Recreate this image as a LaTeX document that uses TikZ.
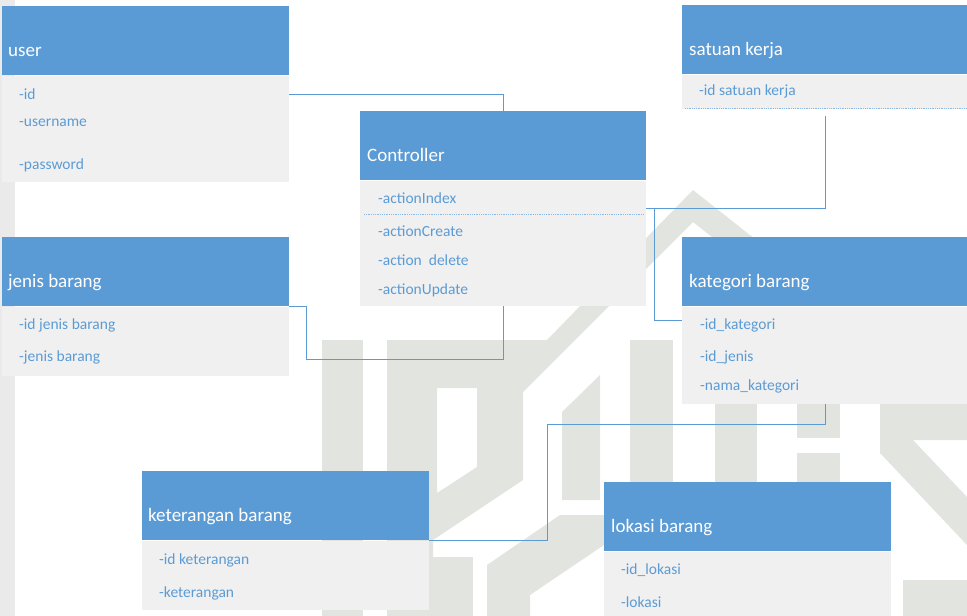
\documentclass[tikz,border=0pt]{standalone}
\usepackage{fontspec}
\setmainfont{Carlito}
\usepackage{xcolor}
\usetikzlibrary{calc}

\definecolor{hdrblue}{RGB}{91,155,213}
\definecolor{bodygray}{RGB}{240,240,240}
\definecolor{wmgray}{RGB}{226,228,223}
\definecolor{stripgray}{RGB}{234,234,234}

\tikzset{
  hdr/.style={fill=hdrblue, minimum width=287pt, minimum height=69pt, anchor=north west, inner sep=0pt},
  bdy/.style={fill=bodygray, minimum width=287pt, anchor=north west, inner sep=0pt},
  ttl/.style={text=white, font=\fontsize{19}{22}\selectfont, anchor=base west, inner sep=0pt},
  itm/.style={text=hdrblue, font=\fontsize{15.5}{18}\selectfont, anchor=base west, inner sep=0pt},
  sep/.style={draw=hdrblue!70, densely dotted, line width=0.8pt},
  link/.style={draw=hdrblue, line width=1pt},
  wmark/.style={fill=wmgray},
}

\begin{document}
\begin{tikzpicture}[x=1pt,y=1pt,yscale=-1]
  \useasboundingbox (0,0) rectangle (967,616);
  \clip (0,0) rectangle (967,616);

  % page background, faint watermark
  \fill[stripgray] (0,0) rectangle (15,616);
  \fill[wmark] (322,340) rectangle (363,616);
  \fill[wmark,even odd rule] (387,340) -- (547,340) -- (693,190) -- (760,243) -- (760,275) -- (693,222)
    -- (523,392) -- (523,480) -- (433,540) -- (433,616) -- (387,616) -- cycle
    (437,388) -- (477,388) -- (477,467) -- (437,493) -- cycle;
  \fill[wmark] (562,500) -- (562,412) -- (600,375) -- (600,500) -- cycle;
  \fill[wmark] (630,340) rectangle (673,482);
  \fill[wmark] (715,403) rectangle (757,482);
  \fill[wmark] (797,403) rectangle (840,438);
  \fill[wmark] (797,453) rectangle (840,482);
  \fill[wmark] (880,403) -- (967,403) -- (967,440) -- (913,440) -- (967,497) -- (967,545) -- (880,453) -- cycle;
  \fill[wmark] (903,580) rectangle (967,616);
  \fill[wmark] (433,557) rectangle (473,616);
  \fill[wmark] (487,616) -- (487,565) -- (560,515) -- (604,515) -- (604,545) -- (530,595) -- (530,616) -- cycle;

  % Class: user
  \node[hdr] (userh) at (2,6) {};
  \node[bdy, minimum height=106pt] (userb) at (userh.south west) {};
  \node[ttl] (usert) at ($(userh.north west)+(6,50)$) {user};
  \foreach \t/\dy [count=\i] in {-id/24, -username/51, -password/94}
    \node[itm] (useri\i) at ($(userb.north west)+(17,\dy)$) {\t};

  % Class: Controller
  \node[hdr, minimum width=286pt] (ctrlh) at (360,111) {};
  \node[bdy, minimum width=286pt, minimum height=125pt] (ctrlb) at (ctrlh.south west) {};
  \node[ttl] (ctrlt) at ($(ctrlh.north west)+(7,50)$) {Controller};
  \foreach \t/\dy [count=\i] in {-actionIndex/23, -actionCreate/56, -action\ \ delete/85, -actionUpdate/114}
    \node[itm] (ctrli\i) at ($(ctrlb.north west)+(18,\dy)$) {\t};
  \draw[sep] ($(ctrlb.north west)+(4,34)$) -- ($(ctrlb.north east)+(-2,34)$);

  % Class: satuan kerja
  \node[hdr] (sath) at (682,5) {};
  \node[bdy, minimum height=34pt] (satb) at (sath.south west) {};
  \node[ttl] (satt) at ($(sath.north west)+(7,50)$) {satuan kerja};
  \node[itm] (sati1) at ($(satb.north west)+(17,21)$) {-id satuan kerja};
  \draw[sep] ($(satb.south west)+(3,0)$) -- (satb.south east);

  % Class: jenis barang
  \node[hdr] (jenish) at (2,237) {};
  \node[bdy, minimum height=69pt] (jenisb) at (jenish.south west) {};
  \node[ttl] (jenist) at ($(jenish.north west)+(6,50)$) {jenis barang};
  \foreach \t/\dy [count=\i] in {-id jenis barang/23, -jenis barang/55}
    \node[itm] (jenisi\i) at ($(jenisb.north west)+(17,\dy)$) {\t};

  % Class: kategori barang
  \node[hdr] (kath) at (682,237) {};
  \node[bdy, minimum height=97pt] (katb) at (kath.south west) {};
  \node[ttl] (katt) at ($(kath.north west)+(7,50)$) {kategori barang};
  \foreach \t/\dy [count=\i] in {-id\_kategori/23, -id\_jenis/55, -nama\_kategori/84}
    \node[itm] (kati\i) at ($(katb.north west)+(18,\dy)$) {\t};

  % Class: keterangan barang
  \node[hdr] (keth) at (142,471) {};
  \node[bdy, minimum height=69pt] (ketb) at (keth.south west) {};
  \node[ttl] (kett) at ($(keth.north west)+(6,50)$) {keterangan barang};
  \foreach \t/\dy [count=\i] in {-id keterangan/24, -keterangan/57}
    \node[itm] (keti\i) at ($(ketb.north west)+(17,\dy)$) {\t};

  % Class: lokasi barang
  \node[hdr] (lokh) at (604,482) {};
  \node[bdy, minimum height=80pt] (lokb) at (lokh.south west) {};
  \node[ttl] (lokt) at ($(lokh.north west)+(7,50)$) {lokasi barang};
  \foreach \t/\dy [count=\i] in {-id\_lokasi/23, -lokasi/56}
    \node[itm] (loki\i) at ($(lokb.north west)+(17,\dy)$) {\t};

  % connectors
  \draw[link] ($(userb.north east)+(0,19)$) -| (ctrlh.north);
  \draw[link] (jenish.south east) -- ++(17,0) |- ($(ctrlb.south)+(0,54)$) -- (ctrlb.south);
  \draw[link] ($(ctrlb.north east)+(0,28)$) -- ++(8,0) |- ($(katb.north west)+(0,14)$);
  \draw[link] ($(satb.south)+(0,7)$) |- ($(ctrlb.north east)+(0,28)$);
  \draw[link] (katb.south) -- ++(0,21) -| ($(keth.south east)+(118,0)$) -- (keth.south east);
\end{tikzpicture}
\end{document}
